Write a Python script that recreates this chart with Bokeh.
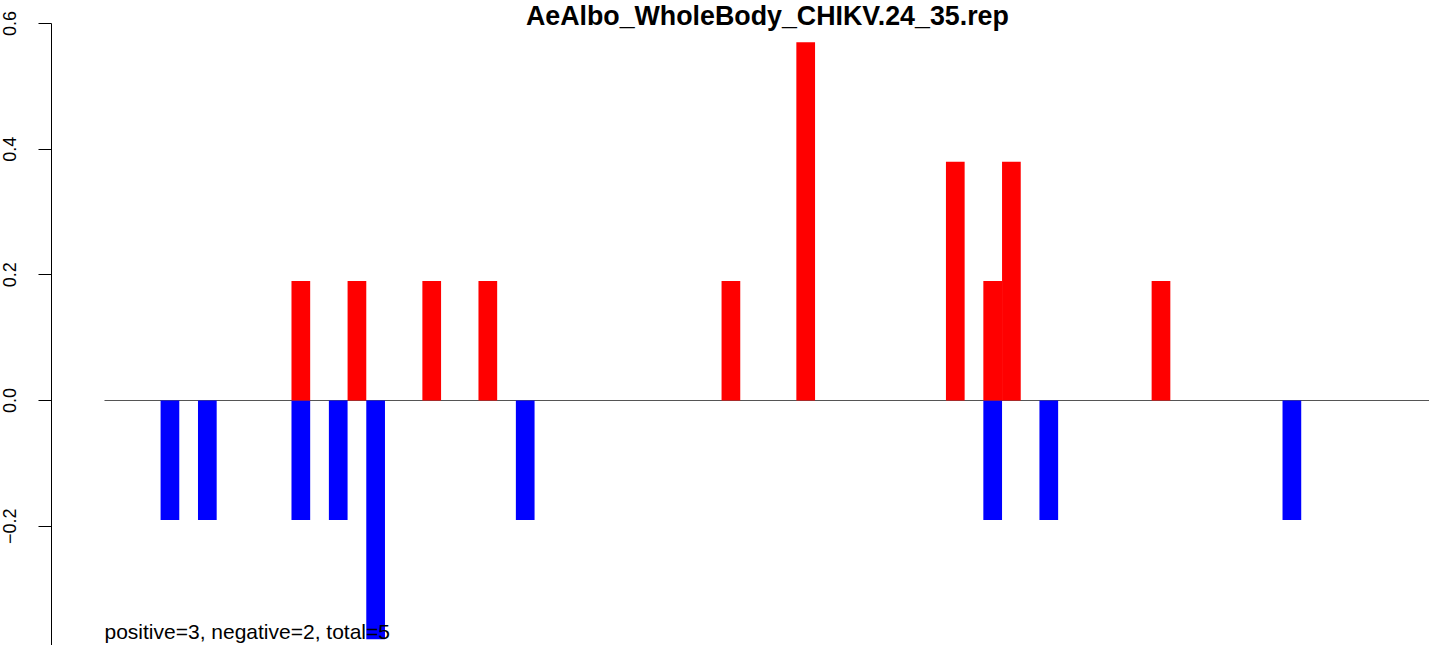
import math
from bokeh.plotting import figure
from bokeh.models import LinearAxis, FixedTicker, Label, ColumnDataSource, Range1d
from bokeh.embed import file_html
from bokeh.resources import INLINE

# ---- data ----
title_text = "AeAlbo_WholeBody_CHIKV.24_35.rep"
red_bins = [10, 13, 17, 20, 33, 37, 45, 47, 48, 56]
red_vals = [0.19, 0.19, 0.19, 0.19, 0.19, 0.57, 0.38, 0.19, 0.38, 0.19]
blue_bins = [3, 5, 10, 12, 14, 22, 47, 50, 63]
blue_vals = [-0.19, -0.19, -0.19, -0.19, -0.38, -0.19, -0.19, -0.19, -0.19]
n_bins = 76
tick_values = [-0.4, -0.2, 0.0, 0.2, 0.4, 0.6]
tick_labels = ["\u22120.4", "\u22120.2", "0.0", "0.2", "0.4", "0.6"]
summary_text = "positive=3, negative=2, total=5"

p = figure(width=1429, height=645, output_backend="svg", toolbar_location=None,
           x_axis_type=None, y_axis_type=None,
           x_range=Range1d(-2.834, 70.86), y_range=Range1d(-0.3899, 0.6366),
           min_border_left=51, min_border_right=0, min_border_top=0, min_border_bottom=0)
p.outline_line_color = None
p.background_fill_color = "white"
p.border_fill_color = "white"

# zero line
p.segment(x0=[0], x1=[n_bins], y0=[0], y1=[0], line_color="#555555", line_width=1)

red_src = ColumnDataSource(dict(left=red_bins, right=[b + 1 for b in red_bins],
                                top=red_vals, bottom=[0] * len(red_vals)))
blue_src = ColumnDataSource(dict(left=blue_bins, right=[b + 1 for b in blue_bins],
                                 top=[0] * len(blue_vals), bottom=blue_vals))
p.quad(left="left", right="right", top="top", bottom="bottom", source=blue_src,
       fill_color="#0000FF", line_color=None)
p.quad(left="left", right="right", top="top", bottom="bottom", source=red_src,
       fill_color="#FF0000", line_color=None)

# y axis
ax = LinearAxis(ticker=FixedTicker(ticks=tick_values), bounds=(-0.4, 0.6))
ax.major_label_overrides = {v: l for v, l in zip(tick_values, tick_labels)}
ax.major_label_orientation = "vertical"
ax.major_label_text_font = "Liberation Sans"
ax.major_label_text_font_size = "18px"
ax.major_label_text_color = "black"
ax.major_label_standoff = 22
ax.major_tick_in = 0
ax.major_tick_out = 13
ax.minor_tick_in = 0
ax.minor_tick_out = 0
ax.axis_line_color = "black"
ax.major_tick_line_color = "black"
ax.axis_line_width = 1
p.add_layout(ax, "left")

# title
p.add_layout(Label(x=35.45, y=max(tick_values), y_offset=-8, text=title_text,
                   text_align="center", text_baseline="bottom",
                   text_font="Liberation Sans", text_font_style="bold",
                   text_font_size="26.8px", text_color="black"))

# summary
p.add_layout(Label(x=0, y=min(blue_vals), y_offset=-4, text=summary_text,
                   text_align="left", text_baseline="bottom",
                   text_font="Liberation Sans", text_font_size="21px",
                   text_color="black"))

open("out.html", "w").write(file_html(p, INLINE))
